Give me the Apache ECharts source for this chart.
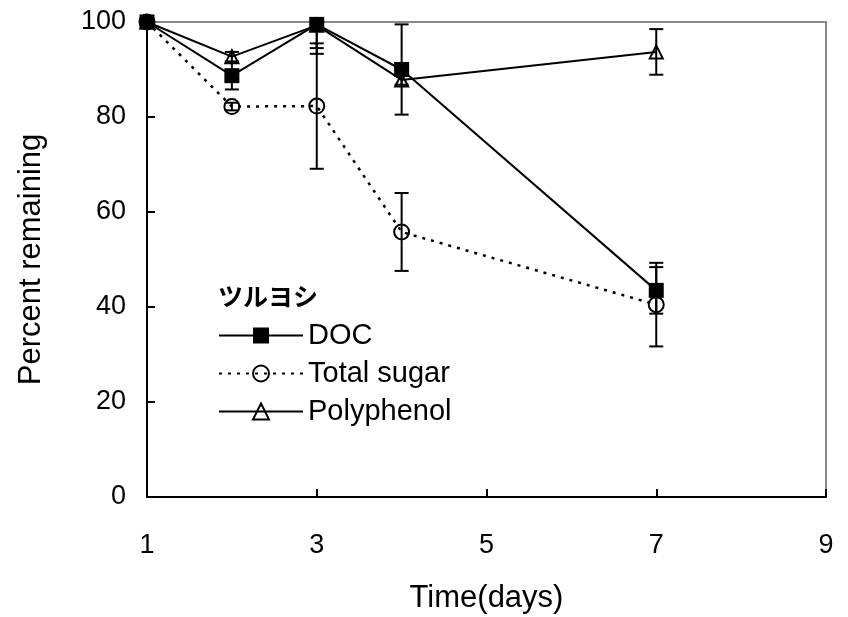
<!DOCTYPE html>
<html>
<head>
<meta charset="utf-8">
<script src="https://cdn.jsdelivr.net/npm/echarts@6/dist/echarts.min.js"></script>
<style>
  html, body { margin: 0; padding: 0; background: #fff; }
  #chart { width: 848px; height: 617px; }
</style>
</head>
<body>
<div id="chart"></div>
<script>
// Sampling days
const days = [1, 2, 3, 4, 7];
// Percent remaining (mean) and error (±) for each measure
const docValues = [100, 88.7, 99.5, 90.0, 43.5];
const docErrors = [0, 2.9, 5.0, 9.5, 4.9];
const sugarValues = [100, 82.2, 82.3, 55.8, 40.5];
const sugarErrors = [0, 0.8, 13.2, 8.2, 8.8];
const polyValues = [100, 92.7, 99.3, 87.8, 93.7];
const polyErrors = [0, 1.0, 6.0, 1.0, 4.8];

const seriesNames = ['DOC', 'Total sugar', 'Polyphenol'];
const legendTitle = 'ツルヨシ';
const xTicks = [1, 3, 5, 7, 9];
const yTicks = [0, 20, 40, 60, 80, 100];

const FONT = '"Liberation Sans", Arial, "Noto Sans CJK JP", sans-serif';

function points(vals) {
  return days.map((d, i) => [d, vals[i]]);
}
function errPoints(vals, errs) {
  return days.map((d, i) => [d, vals[i], errs[i]]).filter(p => p[2] > 0);
}

// vertical error bar with caps
function errorBarRenderer(params, api) {
  const x = api.value(0), y = api.value(1), e = api.value(2);
  const hi = api.coord([x, y + e]);
  const lo = api.coord([x, y - e]);
  const half = 7;
  const style = { stroke: '#000', lineWidth: 2 };
  return {
    type: 'group',
    children: [
      { type: 'line', shape: { x1: hi[0], y1: hi[1], x2: lo[0], y2: lo[1] }, style },
      { type: 'line', shape: { x1: hi[0] - half, y1: hi[1], x2: hi[0] + half, y2: hi[1] }, style },
      { type: 'line', shape: { x1: lo[0] - half, y1: lo[1], x2: lo[0] + half, y2: lo[1] }, style }
    ]
  };
}

function errorSeries(vals, errs) {
  return {
    type: 'custom',
    renderItem: errorBarRenderer,
    data: errPoints(vals, errs),
    encode: { x: 0, y: 1 },
    clip: true,
    silent: true,
    z: 1
  };
}

const chart = echarts.init(document.getElementById('chart'), null, { renderer: 'canvas' });

chart.setOption({
  animation: false,
  backgroundColor: '#fff',
  textStyle: { fontFamily: FONT, color: '#000' },
  title: {
    text: legendTitle,
    left: 213,
    top: 279,
    textStyle: { fontFamily: '"Noto Sans CJK JP", sans-serif', fontSize: 25, fontWeight: 'bold', color: '#000' }
  },
  grid: {
    left: 147, right: 22, top: 22, bottom: 120,
    containLabel: false,
    outerBoundsMode: 'none',
    show: true, borderColor: '#888', borderWidth: 2, backgroundColor: 'transparent'
  },
  legend: {
    data: seriesNames,
    orient: 'vertical',
    left: 213,
    top: 316,
    itemWidth: 84,
    itemHeight: 20,
    itemGap: 9,
    textStyle: { fontFamily: FONT, fontSize: 29, color: '#000' },
    selectedMode: false
  },
  xAxis: {
    type: 'value',
    min: xTicks[0],
    max: xTicks[xTicks.length - 1],
    interval: 2,
    name: 'Time(days)',
    nameLocation: 'middle',
    nameGap: 86,
    nameTextStyle: { fontFamily: FONT, fontSize: 31, color: '#000' },
    axisLine: { lineStyle: { color: '#000', width: 2 } },
    axisTick: { inside: true, length: 8, lineStyle: { color: '#000', width: 2 } },
    axisLabel: { fontFamily: FONT, fontSize: 27, color: '#000', margin: 35 },
    splitLine: { show: false }
  },
  yAxis: {
    type: 'value',
    min: yTicks[0],
    max: yTicks[yTicks.length - 1],
    interval: 20,
    name: 'Percent remaining',
    nameLocation: 'middle',
    nameGap: 100,
    nameTextStyle: { fontFamily: FONT, fontSize: 31, color: '#000' },
    axisLine: { show: true, lineStyle: { color: '#000', width: 2 } },
    axisTick: { show: true, inside: true, length: 8, lineStyle: { color: '#000', width: 2 } },
    axisLabel: { fontFamily: FONT, fontSize: 27, color: '#000', margin: 21 },
    splitLine: { show: false }
  },
  series: [
    errorSeries(docValues, docErrors),
    errorSeries(sugarValues, sugarErrors),
    errorSeries(polyValues, polyErrors),
    {
      name: seriesNames[0],
      type: 'line',
      data: points(docValues),
      symbol: 'rect',
      symbolSize: 15,
      lineStyle: { color: '#000', width: 2 },
      itemStyle: { color: '#000', borderColor: '#000', borderWidth: 0 },
      z: 4
    },
    {
      name: seriesNames[1],
      type: 'line',
      data: points(sugarValues),
      symbol: 'circle',
      symbolSize: 15,
      lineStyle: { color: '#000', width: 2.5, type: [3, 6] },
      itemStyle: { color: 'rgba(0,0,0,0)', borderColor: '#000', borderWidth: 2 },
      z: 3
    },
    {
      name: seriesNames[2],
      type: 'line',
      data: points(polyValues),
      symbol: 'triangle',
      symbolSize: 13,
      lineStyle: { color: '#000', width: 2 },
      itemStyle: { color: 'rgba(0,0,0,0)', borderColor: '#000', borderWidth: 2 },
      z: 3
    }
  ]
});
</script>
</body>
</html>
